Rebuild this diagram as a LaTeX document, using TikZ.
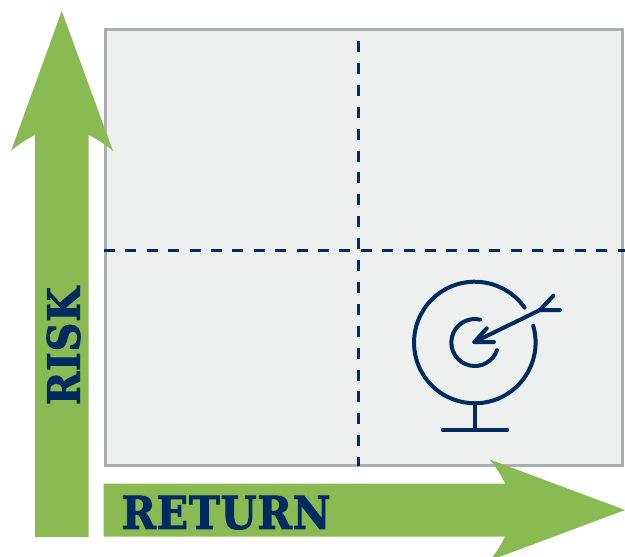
\documentclass[tikz,border=0pt]{standalone}
\usepackage{fontspec}
\newfontfamily\heavyfont[BoldFeatures={FakeBold=2.2},LetterSpace=2]{DejaVu Serif}
\definecolor{arrowgreen}{HTML}{8ABA52}
\definecolor{navy}{HTML}{002B60}
\definecolor{panelfill}{HTML}{EEF0EF}
\definecolor{panelline}{HTML}{ABAEB1}
\tikzset{
  panel/.style={draw=panelline,fill=panelfill,line width=3pt},
  vdivider/.style={draw=navy,line width=2.9pt,dash pattern=on 11pt off 10.9pt},
  hdivider/.style={draw=navy,line width=2.9pt,dash pattern=on 11pt off 10.4pt},
  bigarrow/.style={fill=arrowgreen,draw=none},
  icon/.style={draw=navy,line width=4pt,line cap=round,line join=round},
  axislabel/.style={inner sep=0pt,text=navy,font=\heavyfont\bfseries}
}
\begin{document}
\begin{tikzpicture}[x=1pt,y=-1pt]
\useasboundingbox (0,0) rectangle (625,557);
\clip (0,0) rectangle (625,557);
\draw[panel] (105.3,29.5) rectangle (622.5,465.8);
\draw[vdivider] (358.7,41) -- (358.7,466);
\draw[hdivider] (104,250.8) -- (625,250.8);
% vertical arrow
\fill[bigarrow] (61.7,11) -- (113,151) .. controls (105,144) and (97,139) .. (88.5,135)
  -- (88.5,537) -- (35,537) -- (35,135) .. controls (27,139) and (19,144) .. (11,151) -- cycle;
% horizontal arrow
\fill[bigarrow] (625,510) -- (489.3,459.3) .. controls (496,467) and (501,475) .. (505,483.5)
  -- (103.5,483.5) -- (103.5,536.7) -- (505,536.7) .. controls (501,545) and (496,553) .. (489.3,560.7) -- cycle;
% labels
\node[axislabel] (risk) at (63.5,346) {\rotatebox{90}{\resizebox{118pt}{33pt}{RISK}}};
\node[axislabel] (return) at (226,512.7) {\resizebox{209pt}{33pt}{RETURN}};
% target icon
\coordinate (c) at (474.8,342.5);
\draw[icon] (c) ++(-35:60.8) arc[start angle=-35,end angle=-376,radius=60.8];
\draw[icon] (c) ++(-77:23.5) arc[start angle=-77,end angle=-341,radius=23.5];
\draw[icon] (474.8,403.3) -- (474.8,429.7);
\draw[icon] (442.7,429.7) -- (507.3,429.7);
\draw[icon] (474.3,342) -- (540,310);
\draw[icon] (486.7,328.3) -- (474.3,342) -- (494,342);
\draw[icon] (553.3,295.7) -- (540,310) -- (560,310);
\end{tikzpicture}
\end{document}
